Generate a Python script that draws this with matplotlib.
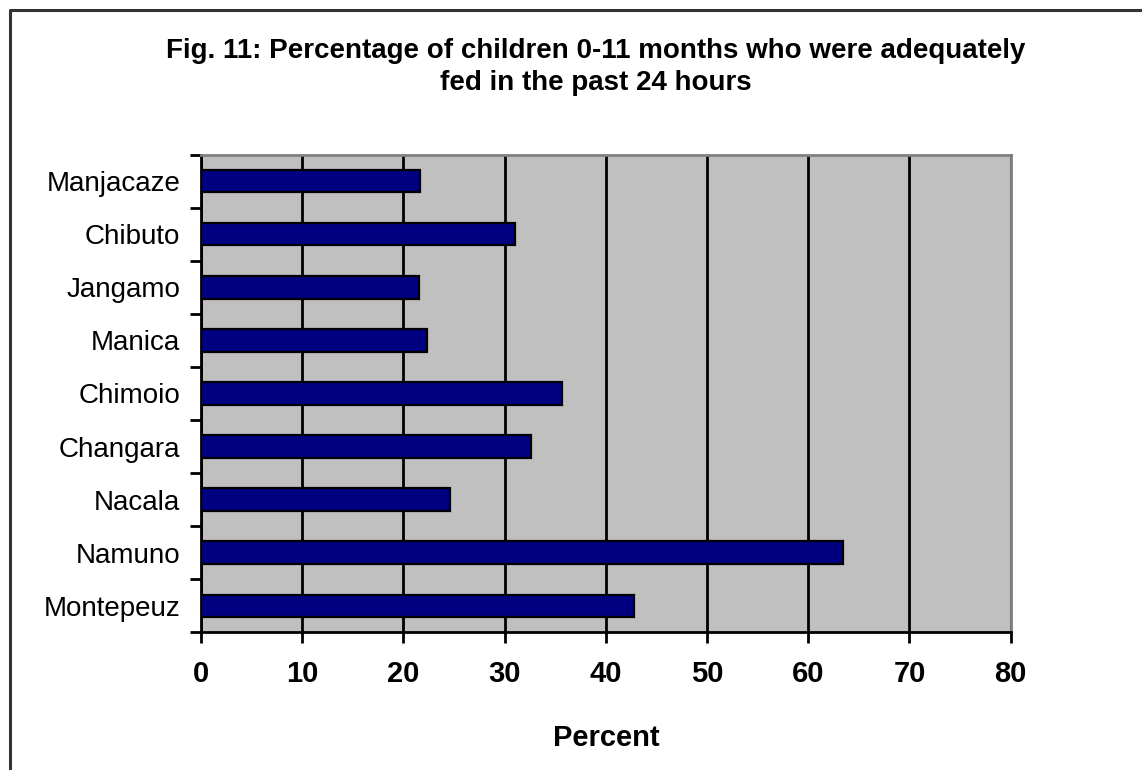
import matplotlib
matplotlib.use("Agg")
import matplotlib.pyplot as plt
from matplotlib.lines import Line2D
from matplotlib.ticker import FixedLocator

plt.rcParams["font.family"] = ["Liberation Sans", "DejaVu Sans"]

# ------------------------------------------------------------
# Data (top to bottom as shown)
# ------------------------------------------------------------
districts = ["Manjacaze", "Chibuto", "Jangamo", "Manica", "Chimoio",
             "Changara", "Nacala", "Namuno", "Montepeuz"]
percent = [21.6, 31.0, 21.5, 22.3, 35.7, 32.6, 24.6, 63.4, 42.8]
x_ticks = [0, 10, 20, 30, 40, 50, 60, 70, 80]

title = ("Fig. 11: Percentage of children 0-11 months who were adequately\n"
         "fed in the past 24 hours")

# ------------------------------------------------------------
# Figure
# ------------------------------------------------------------
fig = plt.figure(figsize=(11.42, 7.70), dpi=100, facecolor="white")
ax = fig.add_axes([0.176, 0.179, 0.709, 0.620])
ax.set_facecolor("#c0c0c0")

ypos = list(range(len(districts)))[::-1]
ax.barh(ypos, percent, height=0.42, color="#000080",
        edgecolor="black", linewidth=1.6, zorder=3)

ax.set_xlim(0, 80)
ax.set_ylim(-0.5, len(districts) - 0.5)

# vertical gridlines
ax.set_xticks(x_ticks)
ax.set_xticklabels([str(t) for t in x_ticks], fontsize=21, fontweight="bold")
ax.xaxis.grid(True, color="black", linewidth=2.0, zorder=1)
ax.set_axisbelow(True)
ax.tick_params(axis="x", direction="out", length=8, width=2, pad=12,
               colors="black")

# category labels centred, tick marks on category boundaries
ax.set_yticks(ypos)
ax.set_yticklabels(districts, fontsize=20)
ax.tick_params(axis="y", which="major", length=0, pad=15)
ax.yaxis.set_minor_locator(FixedLocator([i - 0.5 for i in range(len(districts) + 1)]))
ax.tick_params(axis="y", which="minor", direction="out", length=8, width=2)

for side in ("left", "bottom"):
    ax.spines[side].set_color("black")
    ax.spines[side].set_linewidth(2.0)
for side in ("top", "right"):
    ax.spines[side].set_color("#808080")
    ax.spines[side].set_linewidth(2.0)

ax.set_xlabel("Percent", fontsize=21, fontweight="bold", labelpad=26)

fig.text(0.522, 0.913, title, ha="center", va="center", fontsize=20,
         fontweight="bold", linespacing=1.28)

# outer frame (left and top edges)
fig.add_artist(Line2D([10 / 1142, 10 / 1142, 1.0], [0.0, 1 - 10 / 770, 1 - 10 / 770],
                      transform=fig.transFigure, color="#333333", linewidth=2.2))

fig.savefig("out.png", dpi=100, facecolor="white")
